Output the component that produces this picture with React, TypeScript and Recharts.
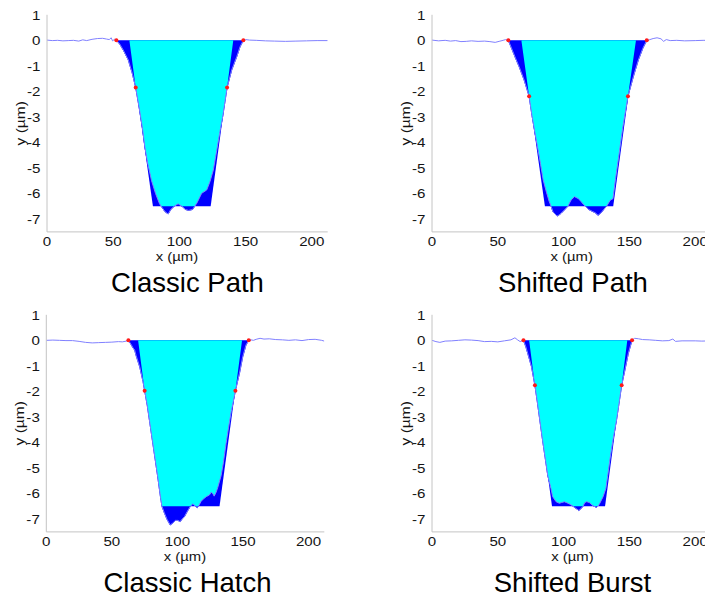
import React from 'react';
import { ComposedChart, Area, Line, Scatter, XAxis, YAxis } from 'recharts';

type P = [number, number];

const X_TICKS = [0, 50, 100, 150, 200];
const Y_TICKS = [1, 0, -1, -2, -3, -4, -5, -6, -7];
const TITLES = ['Classic Path', 'Shifted Path', 'Classic Hatch', 'Shifted Burst'];
const X_LABEL = 'x (µm)';
const Y_LABEL = 'y (µm)';

// ---- Classic Path ----
const cpSurfL: P[] = [[0, 0.01], [4, -0.01], [8, 0.0], [12, -0.02], [16, -0.01], [20, 0.0], [24, -0.03], [27, 0.02], [30, -0.01], [34, 0.04], [38, 0.07], [42, 0.08], [45, 0.05], [47, 0.03], [48.5, 0.1], [49.5, -0.02], [51, 0.04]];
const cpGroove: P[] = [[52.4, 0], [55, -0.15], [57.6, -0.38], [61.4, -0.77], [64.4, -1.29], [67, -1.85], [69.5, -2.6], [72, -3.4], [74, -4.2], [76, -4.8], [79, -5.5], [82, -6.0], [85, -6.4], [87, -6.55], [89, -6.7], [91.5, -6.8], [93.5, -6.62], [96, -6.5], [99, -6.4], [102, -6.5], [104.5, -6.62], [107, -6.66], [110, -6.62], [111.5, -6.5], [113.1, -6.38], [116.8, -5.99], [120.6, -5.86], [123.1, -5.53], [125.6, -5.08], [128.2, -4.3], [130.5, -3.6], [132.7, -2.98], [136, -1.85], [139.5, -1.16], [143.3, -0.64], [145.8, -0.25], [148.3, 0]];
const cpSurfR: P[] = [[150, 0.03], [153, 0.01], [158, 0.0], [165, -0.02], [172, -0.03], [180, -0.04], [188, -0.03], [196, -0.02], [204, -0.01], [212, -0.01]];
const cpTrap: P[] = [[62.2, 0], [80, -6.5], [123.6, -6.5], [140.7, 0]];
const cpCyan: P[] = [[62.2, 0], [67, -1.85], [69.5, -2.6], [72, -3.4], [74, -4.2], [76, -4.8], [79, -5.5], [82, -6.0], [85, -6.4], [86.3, -6.5], [96, -6.5], [99, -6.4], [102, -6.5], [111.5, -6.5], [113.1, -6.38], [116.8, -5.99], [120.6, -5.86], [123.1, -5.53], [125.6, -5.08], [128.2, -4.3], [130.5, -3.6], [132.7, -2.98], [136, -1.85], [140.7, 0]];
const cpMarks: P[] = [[52.4, 0], [67, -1.85], [136, -1.85], [148.3, 0]];

// ---- Shifted Path ----
const spSurfL: P[] = [[0, 0.01], [5, -0.02], [10, 0.0], [14, -0.03], [18, -0.01], [22, -0.05], [26, -0.04], [30, -0.02], [35, -0.04], [40, -0.03], [44, -0.05], [48, -0.08], [51, -0.04], [54, 0.0], [56, 0.03]];
const spGroove: P[] = [[58, 0], [61, -0.38], [63.5, -0.7], [66.2, -1.03], [70, -1.55], [73.8, -2.19], [76, -2.95], [78, -3.55], [80.2, -4.17], [82.5, -4.85], [84.5, -5.47], [87, -5.95], [89, -6.3], [90.5, -6.5], [92, -6.72], [95, -6.88], [96.5, -6.84], [98.1, -6.77], [100.6, -6.64], [103.2, -6.5], [105.7, -6.25], [108.3, -6.12], [111.3, -6.2], [113.4, -6.32], [115, -6.42], [116.7, -6.5], [119, -6.62], [122, -6.7], [124, -6.75], [126.2, -6.85], [128.5, -6.75], [130.5, -6.62], [132.6, -6.5], [135.6, -6.25], [137.5, -6.2], [139.5, -5.4], [142, -4.5], [145, -3.4], [148.9, -2.19], [153, -1.42], [156.8, -0.77], [160.2, -0.31], [163.2, 0]];
const spSurfR: P[] = [[165, 0.02], [168, 0.07], [171, 0.1], [174, 0.06], [176, -0.04], [178, 0.03], [181, -0.01], [186, 0.0], [192, -0.02], [200, -0.01], [206, 0.0], [212, 0.0]];
const spTrap: P[] = [[67.9, 0], [85.8, -6.5], [137.7, -6.5], [155, 0]];
const spCyan: P[] = [[67.9, 0], [73.8, -2.19], [76, -2.95], [78, -3.55], [80.2, -4.17], [82.5, -4.85], [84.5, -5.47], [87, -5.95], [89, -6.3], [90.5, -6.5], [103.2, -6.5], [105.7, -6.25], [108.3, -6.12], [111.3, -6.2], [113.4, -6.32], [115, -6.42], [116.7, -6.5], [132.6, -6.5], [135.6, -6.25], [137.5, -6.2], [139.5, -5.4], [142, -4.5], [145, -3.4], [148.9, -2.19], [155, 0]];
const spMarks: P[] = [[58, 0], [73.8, -2.19], [148.9, -2.19], [163.2, 0]];

// ---- Classic Hatch ----
const chSurfL: P[] = [[0, 0.0], [5, 0.01], [10, 0.0], [15, -0.01], [20, -0.01], [25, -0.04], [30, -0.08], [35, -0.1], [40, -0.09], [45, -0.08], [50, -0.07], [55, -0.05], [58, -0.06], [61, -0.03]];
const chGroove: P[] = [[62.6, 0], [64.9, -0.18], [66.2, -0.3], [67.4, -0.38], [68.5, -0.6], [71.2, -1.03], [73.8, -1.62], [75, -1.97], [77, -2.55], [79, -3.25], [81, -3.95], [83, -4.65], [85, -5.35], [87, -6.1], [88.2, -6.5], [90, -6.75], [92, -7.0], [94.5, -7.23], [96.5, -7.15], [98.5, -7.05], [100.4, -7.05], [102, -7.1], [103.5, -7.0], [105.4, -6.9], [107.5, -6.7], [109.8, -6.5], [111.8, -6.4], [113.5, -6.48], [115.1, -6.55], [116.5, -6.45], [118.1, -6.3], [120, -6.2], [122, -6.12], [124.5, -6.05], [125.7, -5.95], [127, -6.0], [128, -6.1], [129.5, -5.95], [130.8, -5.75], [133.3, -5.3], [135, -4.8], [137.1, -4.03], [139, -3.4], [141, -2.8], [144.2, -1.97], [147.3, -1.29], [149.8, -0.64], [152.3, -0.18], [154.4, 0]];
const chSurfR: P[] = [[156, 0.02], [158, 0.0], [160, 0.04], [163, 0.08], [166, 0.05], [170, 0.06], [175, 0.03], [180, 0.02], [185, 0.0], [190, 0.02], [195, -0.01], [200, 0.03], [205, 0.04], [210, 0.0], [212, -0.03]];
const chTrap: P[] = [[70, 0], [88.2, -6.5], [132.1, -6.5], [149.3, 0]];
const chCyan: P[] = [[70, 0], [75, -1.97], [77, -2.55], [79, -3.25], [81, -3.95], [83, -4.65], [85, -5.35], [87, -6.1], [88.2, -6.5], [109.8, -6.5], [111.8, -6.4], [113.5, -6.48], [114.2, -6.5], [116, -6.5], [116.5, -6.45], [118.1, -6.3], [120, -6.2], [122, -6.12], [124.5, -6.05], [125.7, -5.95], [127, -6.0], [128, -6.1], [129.5, -5.95], [130.8, -5.75], [133.3, -5.3], [135, -4.8], [137.1, -4.03], [139, -3.4], [141, -2.8], [144.2, -1.97], [149.3, 0]];
const chMarks: P[] = [[62.6, 0], [75, -1.97], [144.2, -1.97], [154.4, 0]];

// ---- Shifted Burst ----
const sbSurfL: P[] = [[0, 0.0], [3, -0.05], [6, -0.08], [10, -0.03], [15, -0.02], [20, 0.0], [25, 0.02], [30, 0.01], [35, -0.01], [40, -0.05], [45, -0.04], [50, -0.06], [55, -0.02], [60, 0.02], [63, 0.1], [65, 0.02], [67, -0.05]];
const sbGroove: P[] = [[69.5, 0], [71.3, -0.25], [73.8, -0.7], [75.6, -1.03], [78.2, -1.76], [80, -2.4], [82, -3.15], [84, -3.9], [86, -4.6], [88, -5.3], [90.4, -5.8], [91.7, -6.12], [94.3, -6.32], [96.8, -6.38], [98.5, -6.35], [100.6, -6.32], [102.5, -6.36], [104.5, -6.41], [106.5, -6.47], [108.3, -6.54], [110, -6.6], [111.6, -6.66], [113, -6.6], [114.7, -6.5], [116, -6.36], [117.2, -6.32], [118.5, -6.33], [119.8, -6.36], [121.5, -6.44], [122.9, -6.49], [124.9, -6.54], [126.3, -6.48], [127.5, -6.38], [130, -6.12], [132.1, -5.8], [133.5, -5.3], [135.1, -4.69], [137.5, -3.9], [140.2, -3.12], [142, -2.5], [144.1, -1.76], [146.6, -1.16], [149.2, -0.51], [151, -0.18], [152, 0]];
const sbSurfR: P[] = [[154, 0.08], [157, 0.06], [160, 0.03], [165, 0.02], [170, 0.0], [175, -0.02], [180, -0.01], [183, 0.05], [185, -0.04], [190, -0.02], [200, -0.02], [205, -0.03], [212, -0.02]];
const sbTrap: P[] = [[73.8, 0], [91.2, -6.5], [131.5, -6.5], [148.4, 0]];
const sbCyan: P[] = [[73.8, 0], [78.2, -1.76], [80, -2.4], [82, -3.15], [84, -3.9], [86, -4.6], [88, -5.3], [90.4, -5.8], [91.7, -6.12], [94.3, -6.32], [96.8, -6.38], [98.5, -6.35], [100.6, -6.32], [102.5, -6.36], [104.5, -6.41], [106.5, -6.47], [107.4, -6.5], [114.7, -6.5], [116, -6.36], [117.2, -6.32], [118.5, -6.33], [119.8, -6.36], [121.5, -6.44], [122.9, -6.49], [123.2, -6.5], [126, -6.5], [126.3, -6.48], [127.5, -6.38], [130, -6.12], [132.1, -5.8], [133.5, -5.3], [135.1, -4.69], [137.5, -3.9], [140.2, -3.12], [142, -2.5], [144.1, -1.76], [148.4, 0]];
const sbMarks: P[] = [[69.5, 0], [78.2, -1.76], [144.1, -1.76], [152, 0]];

const FONT = '"Liberation Sans", Arial, Helvetica, sans-serif';
const TXT = '#141414';
const toPts = (a: P[]) => a.map(([x, y]) => ({ x, y }));

const XTick = (p: any) => (
  <text transform={`translate(${p.x},${p.y}) scale(1.12,1)`} x={0} y={14} textAnchor="middle"
    fontSize={13.5} fontFamily={FONT} fill={TXT}>{p.payload.value}</text>
);
const YTick = (p: any) => (
  <text transform={`translate(${p.x - 6.5},${p.y}) scale(1.12,1)`} x={0} y={4.8} textAnchor="end"
    fontSize={13.5} fontFamily={FONT} fill={TXT}>{p.payload.value}</text>
);

type PanelProps = {
  left: number; top: number; yAxisW: number; plotW: number;
  surfL: P[]; groove: P[]; surfR: P[]; trap: P[]; cyan: P[]; marks: P[];
};

function Panel({ left, top, yAxisW, plotW, surfL, groove, surfR, trap, cyan, marks }: PanelProps) {
  const W = 340;
  const H = 300;
  const right = W - yAxisW - plotW;
  const profile = toPts([...surfL, ...groove, ...surfR]);
  return (
    <div style={{ position: 'absolute', left, top, width: W, height: H }}>
      <ComposedChart width={W} height={H} margin={{ top: 14.8, right, left: 0, bottom: 0 }}>
        <XAxis type="number" dataKey="x" domain={[0, 212]} ticks={X_TICKS} allowDataOverflow interval={0}
          height={68.1} tickSize={0} tickMargin={0} stroke="#c4c4c4" tick={XTick} />
        <YAxis type="number" dataKey="y" domain={[-7.5, 1]} ticks={Y_TICKS} allowDataOverflow interval={0}
          width={yAxisW} tickSize={0} tickMargin={0} stroke="#c4c4c4" tick={YTick} />
        <Area data={toPts(groove)} dataKey="y" type="linear" baseValue={0} fill="#0000ff" fillOpacity={1}
          stroke="#0000ff" strokeWidth={1} isAnimationActive={false} dot={false} activeDot={false} />
        <Area data={toPts(trap)} dataKey="y" type="linear" baseValue={0} fill="#0000ff" fillOpacity={1}
          stroke="none" isAnimationActive={false} dot={false} activeDot={false} />
        <Area data={toPts(cyan)} dataKey="y" type="linear" baseValue={0} fill="#00ffff" fillOpacity={1}
          stroke="none" isAnimationActive={false} dot={false} activeDot={false} />
        <Line data={profile} dataKey="y" type="linear" stroke="#8080ff" strokeWidth={1} dot={false}
          activeDot={false} isAnimationActive={false} />
        <Scatter data={toPts(marks)} dataKey="y" fill="#ff0000" isAnimationActive={false}
          shape={(p: any) => <circle cx={p.cx} cy={p.cy} r={2} fill="#ff1a1a" />} />
      </ComposedChart>
    </div>
  );
}

const XLab = ({ x, y }: { x: number; y: number }) => (
  <text transform={`translate(${x},${y}) scale(1.1,1)`} textAnchor="middle" fontSize={13.5} fontFamily={FONT} fill={TXT}>{X_LABEL}</text>
);
const YLab = ({ x, y }: { x: number; y: number }) => (
  <text transform={`translate(${x},${y}) rotate(-90) scale(1.15,1)`} textAnchor="middle" fontSize={13.5} fontFamily={FONT} fill={TXT}>{Y_LABEL}</text>
);
const Title = ({ x, y, t }: { x: number; y: number; t: string }) => (
  <text x={x} y={y} textAnchor="middle" fontSize={27.5} fontFamily={FONT} fill="#000">{t}</text>
);

export default function App() {
  return (
    <div style={{ position: 'absolute', left: 0, top: 0, width: 705, height: 598, overflow: 'hidden', background: '#fff' }}>
      <Panel left={0} top={0} yAxisW={47} plotW={280.7}
        surfL={cpSurfL} groove={cpGroove} surfR={cpSurfR} trap={cpTrap} cyan={cpCyan} marks={cpMarks} />
      <Panel left={385} top={0} yAxisW={47} plotW={279}
        surfL={spSurfL} groove={spGroove} surfR={spSurfR} trap={spTrap} cyan={spCyan} marks={spMarks} />
      <Panel left={0} top={300} yAxisW={46.3} plotW={278}
        surfL={chSurfL} groove={chGroove} surfR={chSurfR} trap={chTrap} cyan={chCyan} marks={chMarks} />
      <Panel left={385} top={300} yAxisW={47} plotW={279}
        surfL={sbSurfL} groove={sbGroove} surfR={sbSurfR} trap={sbTrap} cyan={sbCyan} marks={sbMarks} />
      <svg width={705} height={598} style={{ position: 'absolute', left: 0, top: 0, pointerEvents: 'none' }}>
        <XLab x={177} y={260.5} />
        <XLab x={571.7} y={260.5} />
        <XLab x={185} y={560.5} />
        <XLab x={572.5} y={560.5} />
        <YLab x={24.5} y={123.3} />
        <YLab x={409.5} y={123.3} />
        <YLab x={24} y={423.3} />
        <YLab x={409.5} y={423.3} />
        <Title x={187.5} y={291.7} t={TITLES[0]} />
        <Title x={573} y={291.7} t={TITLES[1]} />
        <Title x={187.5} y={591.7} t={TITLES[2]} />
        <Title x={572.5} y={591.7} t={TITLES[3]} />
      </svg>
    </div>
  );
}
